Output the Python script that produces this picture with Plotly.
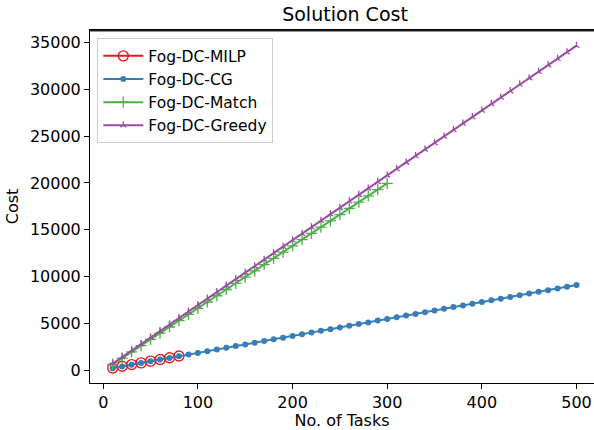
import plotly.graph_objects as go

tasks = [10, 20, 30, 40, 50, 60, 70, 80, 90, 100, 110, 120, 130, 140, 150, 160, 170, 180, 190, 200,
         210, 220, 230, 240, 250, 260, 270, 280, 290, 300, 310, 320, 330, 340, 350, 360, 370, 380, 390, 400,
         410, 420, 430, 440, 450, 460, 470, 480, 490, 500]

milp_tasks = [10, 20, 30, 40, 50, 60, 70, 80]
milp_cost = [210, 400, 580, 760, 950, 1130, 1310, 1500]

cg_cost = [200, 380, 560, 740, 930, 1110, 1290, 1470, 1650, 1830, 2010, 2190, 2380, 2560, 2740, 2920,
           3100, 3280, 3460, 3640, 3830, 4010, 4190, 4370, 4550, 4730, 4910, 5090, 5280, 5460, 5640,
           5820, 6000, 6180, 6360, 6540, 6730, 6910, 7090, 7270, 7450, 7630, 7810, 7990, 8180, 8360,
           8540, 8720, 8900, 9080]

match_tasks = [10, 20, 30, 40, 50, 60, 70, 80, 90, 100, 110, 120, 130, 140, 150, 160, 170, 180, 190, 200,
               210, 220, 230, 240, 250, 260, 270, 280, 290, 300]
match_cost = [600, 1270, 1930, 2600, 3270, 3940, 4600, 5270, 5940, 6600, 7270, 7940, 8610, 9270, 9940,
              10610, 11270, 11940, 12610, 13280, 13940, 14610, 15280, 15940, 16610, 17280, 17950, 18610,
              19280, 19950]

greedy_cost = [700, 1400, 2090, 2780, 3480, 4170, 4860, 5560, 6250, 6940, 7640, 8330, 9020, 9720, 10410,
               11100, 11800, 12490, 13180, 13880, 14570, 15260, 15960, 16650, 17340, 18040, 18730, 19420,
               20120, 20810, 21500, 22200, 22890, 23580, 24280, 24970, 25660, 26360, 27050, 27740, 28440,
               29130, 29820, 30520, 31210, 31900, 32600, 33290, 33980, 34680]

x_ticks = [0, 100, 200, 300, 400, 500]
y_ticks = [0, 5000, 10000, 15000, 20000, 25000, 30000, 35000]

FONT = "DejaVu Sans"

fig = go.Figure()
fig.add_trace(go.Scatter(x=milp_tasks, y=milp_cost, mode="lines+markers", name="Fog-DC-MILP",
                         line=dict(color="#e41a1c", width=2),
                         marker=dict(symbol="circle-open", size=10, line=dict(width=1.4, color="#e41a1c"))))
fig.add_trace(go.Scatter(x=tasks, y=cg_cost, mode="lines+markers", name="Fog-DC-CG",
                         line=dict(color="#377eb8", width=2),
                         marker=dict(symbol="circle", size=6, color="#377eb8")))
fig.add_trace(go.Scatter(x=match_tasks, y=match_cost, mode="lines+markers", name="Fog-DC-Match",
                         line=dict(color="#4daf4a", width=2),
                         marker=dict(symbol="cross-thin", size=8, line=dict(width=1.3, color="#4daf4a"))))
fig.add_trace(go.Scatter(x=tasks, y=greedy_cost, mode="lines+markers", name="Fog-DC-Greedy",
                         line=dict(color="#984ea3", width=2),
                         marker=dict(symbol="y-up", size=5, line=dict(width=1.3, color="#984ea3"))))

fig.update_layout(
    width=594, height=430,
    margin=dict(l=90, r=0, t=30, b=47, autoexpand=False),
    paper_bgcolor="white", plot_bgcolor="white",
    font=dict(family=FONT, size=16, color="black"),
    title=dict(text="Solution Cost", x=0.506, xref="paper", y=0.967, yref="container",
               xanchor="center", yanchor="middle", font=dict(family=FONT, size=19, color="black")),
    showlegend=True,
    legend=dict(x=0.0145, y=0.9765, xanchor="left", yanchor="top", itemwidth=40,
                bgcolor="rgba(255,255,255,0.8)", bordercolor="#cccccc", borderwidth=1,
                font=dict(family=FONT, size=15.5, color="black"), tracegroupgap=0),
    shapes=[dict(type="line", xref="paper", yref="paper", x0=0, x1=1, y0=0.998, y1=0.998,
                 line=dict(color="#222222", width=1.4), layer="above")],
)
fig.update_xaxes(range=[-14, 518.5], tickvals=x_ticks, ticktext=[str(v) for v in x_ticks],
                 automargin=False,
                 showgrid=False, zeroline=False, showline=True, mirror=True, linecolor="black", linewidth=1,
                 ticks="outside", ticklen=5, tickcolor="black", tickfont=dict(size=16),
                 title=dict(text="No. of Tasks", font=dict(size=16), standoff=4))
fig.update_yaxes(range=[-1390, 36356], tickvals=y_ticks, ticktext=[str(v) for v in y_ticks],
                 automargin=False,
                 showgrid=False, zeroline=False, showline=True, mirror=False, linecolor="black", linewidth=1,
                 ticks="outside", ticklen=5, tickcolor="black", tickfont=dict(size=16),
                 title=dict(text="Cost", font=dict(size=16), standoff=7))

fig.write_html("out.html", config={"displayModeBar": False},
               post_script="document.body.style.margin='0';document.body.style.overflow='hidden';")
